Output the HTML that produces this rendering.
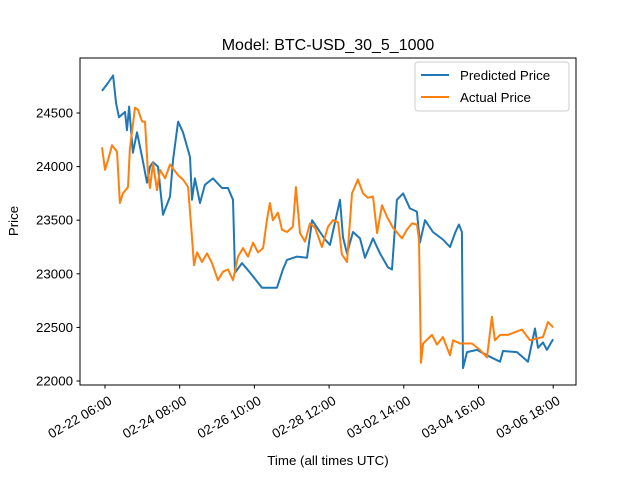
<!DOCTYPE html>
<html><head><meta charset="utf-8"><style>body{margin:0;background:#fff}svg{display:block;font-family:"Liberation Sans","DejaVu Sans",sans-serif}</style></head>
<body>
<svg id="chart" width="640" height="480">
<rect width="640" height="480" fill="#fff"/>
<text x="328" y="50" font-size="16" text-anchor="middle">Model: BTC-USD_30_5_1000</text>
<g id="plot"></g>
<rect x="80" y="58" width="496" height="327" fill="none" stroke="#000" stroke-width="1"/>
<text x="328" y="465" font-size="13.3" text-anchor="middle">Time (all times UTC)</text>
<text transform="translate(18,221) rotate(-90)" font-size="13.3" text-anchor="middle">Price</text>
<g>
<rect x="415" y="62" width="154" height="49" fill="#fff" stroke="#ccc" rx="3"/>
<line x1="421" y1="75" x2="449" y2="75" stroke="#1f77b4" stroke-width="2"/>
<text x="460" y="80" font-size="13.3">Predicted Price</text>
<line x1="421" y1="97" x2="449" y2="97" stroke="#ff7f0e" stroke-width="2"/>
<text x="460" y="102" font-size="13.3">Actual Price</text>
</g>
</svg>
<script>
const predHours=[-2,2,5.4,7.4,9.4,13.4,14.7,16.1,18.7,21.4,24.8,28.1,30.1,32.1,35.5,38.8,43.5,45.5,48.9,52.2,56.9,58.2,60.2,63.6,66.9,72.3,78.3,82.3,85.7,87,91.7,97.1,105.1,115.1,119.1,121.8,128.5,135.2,138.6,143.9,147.3,150.6,157.3,159.3,162,166,170.7,174,179.4,184.1,189.4,192.1,195.4,199.5,204.1,208.8,210.8,214.2,219.5,226.2,230.9,234.3,236.9,238.9,239.6,242.3,249,255.7,264.4,266.4,275.8,283.1,287.8,289.8,293.2,295.8,299.9];
const predValues=[24706,24780,24850,24590,24460,24510,24340,24560,24130,24320,24090,23850,24000,24040,24000,23550,23720,24060,24420,24320,24090,23690,23890,23660,23830,23890,23800,23800,23690,23010,23100,23010,22870,22870,23040,23130,23160,23150,23500,23390,23320,23270,23690,23340,23190,23390,23330,23150,23330,23190,23060,23040,23690,23750,23610,23580,23290,23500,23390,23320,23250,23380,23460,23390,22120,22270,22290,22240,22180,22280,22270,22180,22490,22310,22360,22290,22390];
const actHours=[-2,0,2,4.7,8,10,12,15.4,16.7,20.1,22.1,24.8,26.8,28.8,30.1,32.1,34.8,36.8,40.2,43.5,48.9,52.2,55.6,58.2,59.6,61.6,64.9,68.3,71.6,75.6,79,82.3,85.7,89,92.4,95.7,99.1,102.4,105.8,108.4,110.4,112.4,115.8,118.5,121.8,125.8,127.8,130.5,133.9,137.2,140.6,145.2,149.3,152.6,156,158.6,162,165.3,169.3,172.7,176,179.4,182.1,185.4,188.8,192.8,198.8,202.1,205.5,208.8,210.2,211.5,212.9,218.9,222.2,226.2,230.9,232.9,237.6,245.6,251,255.7,259,261,264.4,269.7,279.1,284.5,293.2,296.5,299.9];
const actValues=[24180,23970,24060,24200,24140,23660,23750,23810,24170,24550,24530,24420,24420,23940,23800,24030,23780,23970,23890,24020,23920,23880,23810,23340,23080,23200,23110,23190,23100,22940,23020,23040,22940,23160,23240,23160,23290,23200,23240,23500,23660,23500,23570,23410,23390,23440,23810,23380,23300,23470,23430,23250,23440,23500,23480,23180,23110,23750,23880,23750,23710,23720,23380,23640,23530,23430,23330,23410,23470,23460,23320,22170,22350,22430,22340,22410,22240,22380,22350,22350,22290,22220,22600,22380,22430,22430,22480,22380,22410,22550,22500];
const xTickHours=[0,50,100,150,200,250,300];
const xTickLabels=["02-22 06:00","02-24 08:00","02-26 10:00","02-28 12:00","03-02 14:00","03-04 16:00","03-06 18:00"];
const yTicks=[22000,22500,23000,23500,24000,24500];

const NS="http://www.w3.org/2000/svg";
const xs=h=>105+h*1.494;
const ys=v=>381-(v-22000)*0.1072;
const plot=document.getElementById('plot');
function mk(t,a){const e=document.createElementNS(NS,t);for(const k in a)e.setAttribute(k,a[k]);plot.appendChild(e);return e;}
xTickHours.forEach((h,i)=>{
  const x=xs(h);
  const t=mk('line',{x1:x,y1:385,x2:x,y2:388.5,stroke:'#000'});
  
  
  const l=mk('text',{transform:`translate(${x+3},${395}) rotate(-30)`,'font-size':'13.3','text-anchor':'end','dominant-baseline':'hanging'});
  l.textContent=xTickLabels[i];
  
  
});
yTicks.forEach(v=>{
  const y=ys(v);
  const t=mk('line',{x1:76.5,y1:y,x2:80,y2:y,stroke:'#000'});
  
  
  const l=mk('text',{x:73,y:y+4.5,'font-size':'13.3','text-anchor':'end'});
  l.textContent=v;
  
  
});
function line(hs,vs,c,name){
  const d=hs.map((h,i)=>(i?'L':'M')+xs(h).toFixed(1)+','+ys(vs[i]).toFixed(1)).join('');
  const p=mk('path',{d:d,fill:'none',stroke:c,'stroke-width':2,'stroke-linejoin':'round'});
  
  
}
line(predHours,predValues,'#1f77b4','predicted-price-line');
line(actHours,actValues,'#ff7f0e','actual-price-line');
</script>
</body></html>
